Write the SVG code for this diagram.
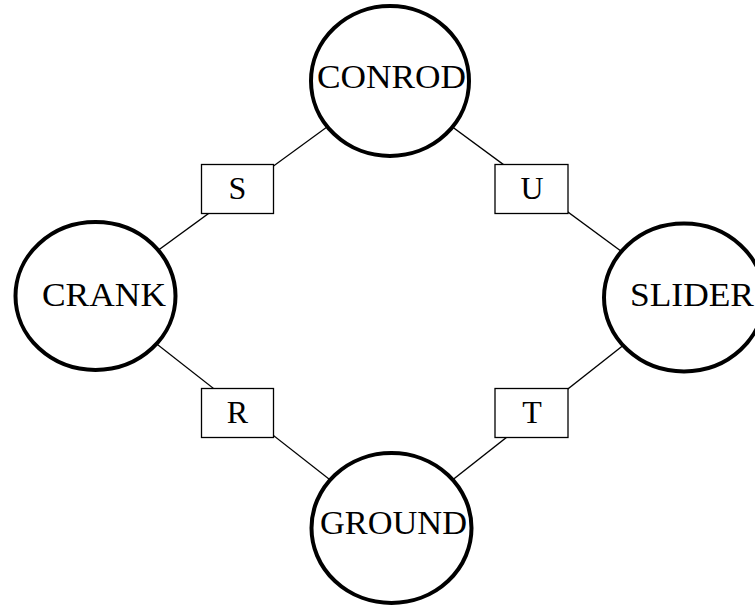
<svg xmlns="http://www.w3.org/2000/svg" width="755" height="605" viewBox="0 0 755 605">
<style>
.node ellipse{fill:#fff;stroke:#000;stroke-width:4}
.lbl{font-family:"Liberation Serif","Times New Roman",serif;font-size:33px;fill:#000}
.box rect{fill:#fff;stroke:#000;stroke-width:1.3}
.edge line{stroke:#000;stroke-width:1.3}
.jl{font-family:"Liberation Serif","Times New Roman",serif;font-size:32px;fill:#000;text-anchor:middle}
</style>
<rect width="755" height="605" fill="#fff"/>
<g id="connectors" class="edge">
<line x1="390" y1="81" x2="95.5" y2="296"/>
<line x1="390" y1="81" x2="684" y2="297.5"/>
<line x1="95.5" y1="296" x2="391.5" y2="528"/>
<line x1="684" y1="297.5" x2="391.5" y2="528"/>
</g>
<g id="joint-S" class="box"><rect x="201.5" y="164.5" width="72" height="49"/><text class="jl" x="237.5" y="198.5">S</text></g>
<g id="joint-U" class="box"><rect x="495" y="164.5" width="73" height="49"/><text class="jl" x="532" y="198.5">U</text></g>
<g id="joint-R" class="box"><rect x="201.5" y="388.5" width="72" height="49"/><text class="jl" x="237.5" y="422.5">R</text></g>
<g id="joint-T" class="box"><rect x="495" y="388.5" width="73" height="49"/><text class="jl" x="532" y="422.5">T</text></g>
<g id="CONROD" class="node"><ellipse cx="390" cy="81" rx="79" ry="75"/><text class="lbl" x="317" y="88" textLength="149" lengthAdjust="spacingAndGlyphs">CONROD</text></g>
<g id="CRANK" class="node"><ellipse cx="95.5" cy="296" rx="80" ry="74"/><text class="lbl" x="42" y="306" textLength="124" lengthAdjust="spacingAndGlyphs">CRANK</text></g>
<g id="SLIDER" class="node"><ellipse cx="684" cy="297.5" rx="80" ry="74"/><text class="lbl" x="630" y="306" textLength="124" lengthAdjust="spacingAndGlyphs">SLIDER</text></g>
<g id="GROUND" class="node"><ellipse cx="391.5" cy="528" rx="80" ry="75"/><text class="lbl" x="320" y="534" textLength="147" lengthAdjust="spacingAndGlyphs">GROUND</text></g>
</svg>
